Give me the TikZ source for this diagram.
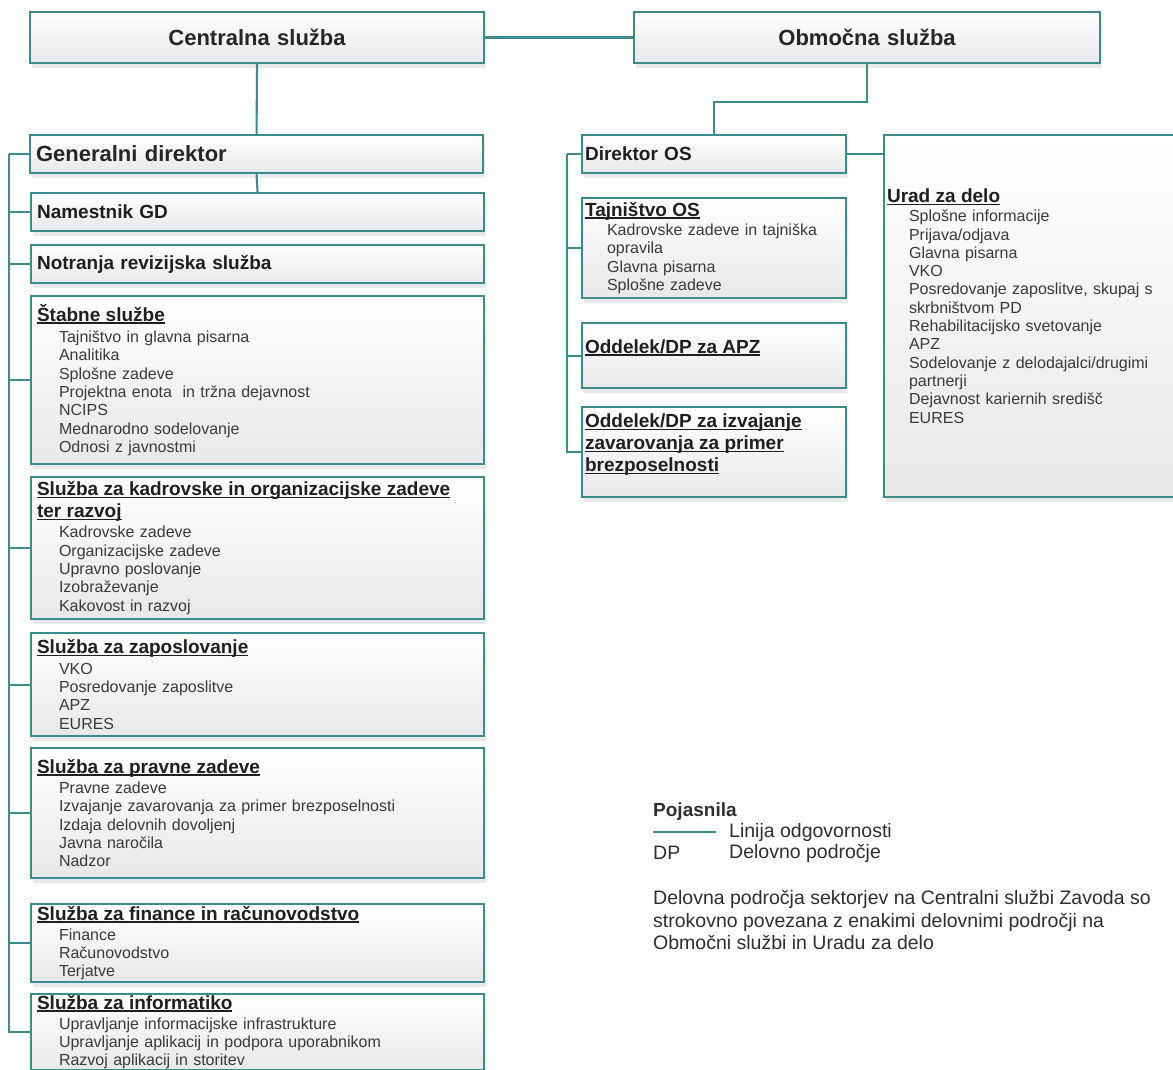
\documentclass[tikz,border=0pt]{standalone}
\usepackage{fontspec}
\setmainfont{Liberation Sans}
\usepackage{xcolor}
\usetikzlibrary{shadows,calc}

\definecolor{orgline}{RGB}{60,140,140}
\definecolor{boxfill}{RGB}{232,232,232}
\definecolor{itemgray}{RGB}{58,58,58}

% underline that runs through the descenders
\newcommand{\ulin}[1]{\noindent\setbox0=\hbox{#1}\rlap{\rule[-0.13em]{\wd0}{0.075em}}\box0}
\newcommand{\unithead}[1]{{\fontsize{19}{22}\selectfont\bfseries\color{black!88}\ulin{#1}}}
\newcommand{\itm}{\hspace*{22pt}}

\begin{document}
\begin{tikzpicture}[x=1pt, y=-1pt,
% common options for the boxes:
unit/.style = {draw=orgline, line width=2.1pt, top color=white, bottom color=boxfill,
            drop shadow={shadow xshift=2pt, shadow yshift=-5pt, fill=black!60, opacity=0.14},
            anchor=north west, align=left, inner ysep=0pt,
            font=\fontsize{16}{18.3}\selectfont, text=itemgray},
leftbox/.style = {unit, inner xsep=6pt, text width=441pt},
rightbox/.style = {unit, inner xsep=3pt, text width=258pt},
topbox/.style = {unit, inner xsep=5pt, align=center, minimum height=51,
            font=\fontsize{22}{26}\selectfont\bfseries, text=black!85},
boldline/.style = {font=\fontsize{19}{22}\selectfont\bfseries, text=black!88},
% common options for the connectors and the legend:
conn/.style = {draw=orgline, line width=2.1pt},
legtext/.style = {anchor=west, inner sep=0pt, align=left,
            font=\fontsize{19.5}{22.2}\selectfont, text=black!82}]
\useasboundingbox (0,0) rectangle (1173,1070);

% top level
\node[topbox, text width=444pt] (cs) at (29,11) {Centralna služba};
\node[topbox, text width=456pt] (os) at (633,11) {Območna služba};

% Centralna sluzba
\node[leftbox, minimum height=38, font=\fontsize{22}{26}\selectfont\bfseries, text=black!85] (gd) at (29,134) {Generalni direktor};
\node[leftbox, minimum height=38, boldline] (ngd) at (30,192) {Namestnik GD};
\node[leftbox, minimum height=38, boldline] (nrs) at (30,244) {Notranja revizijska služba};
\node[leftbox, minimum height=168] (stab) at (30,295) {\unithead{Štabne službe}\\[3pt]
  \itm Tajništvo in glavna pisarna\\
  \itm Analitika\\
  \itm Splošne zadeve\\
  \itm Projektna enota~ in tržna dejavnost\\
  \itm NCIPS\\
  \itm Mednarodno sodelovanje\\
  \itm Odnosi z javnostmi};
\node[leftbox, minimum height=142] (kadr) at (30,476) {\unithead{Služba za kadrovske in organizacijske zadeve}\\[3.5pt]
  \unithead{ter razvoj}\\[2pt]
  \itm Kadrovske zadeve\\
  \itm Organizacijske zadeve\\
  \itm Upravno poslovanje\\
  \itm Izobraževanje\\
  \itm Kakovost in razvoj};
\node[leftbox, minimum height=103] (zap) at (30,632) {\unithead{Služba za zaposlovanje}\\[2pt]
  \itm VKO\\
  \itm Posredovanje zaposlitve\\
  \itm APZ\\
  \itm EURES};
\node[leftbox, minimum height=130] (prav) at (30,747) {\unithead{Služba za pravne zadeve}\\[2pt]
  \itm Pravne zadeve\\
  \itm Izvajanje zavarovanja za primer brezposelnosti\\
  \itm Izdaja delovnih dovoljenj\\
  \itm Javna naročila\\
  \itm Nadzor};
\node[leftbox, minimum height=78] (fin) at (30,903) {\unithead{Služba za finance in računovodstvo}\\[2pt]
  \itm Finance\\
  \itm Računovodstvo\\
  \itm Terjatve};
\node[leftbox, minimum height=76] (inf) at (30,993) {\unithead{Služba za informatiko}\\[2pt]
  \itm Upravljanje informacijske infrastrukture\\
  \itm Upravljanje aplikacij in podpora uporabnikom\\
  \itm Razvoj aplikacij in storitev};

% Obmocna sluzba
\node[rightbox, minimum height=38, boldline] (dos) at (581,134) {Direktor OS};
\node[rightbox, minimum height=100] (taj) at (581,197) {\unithead{Tajništvo OS}\\[1pt]
  \itm Kadrovske zadeve in tajniška\\
  \itm opravila\\
  \itm Glavna pisarna\\
  \itm Splošne zadeve};
\node[rightbox, minimum height=65] (apz) at (581,322) {\unithead{Oddelek/DP za APZ}\\ \mbox{}};
\node[rightbox, minimum height=90] (izv) at (581,406) {\unithead{Oddelek/DP za izvajanje}\\[3.5pt]
  \unithead{zavarovanja za primer}\\[3.5pt]
  \unithead{brezposelnosti}\\ \mbox{}};
\node[unit, inner xsep=3pt, text width=304pt, minimum height=362] (urad) at (883,134) {\unithead{Urad za delo}\\[1pt]
  \itm Splošne informacije\\
  \itm Prijava/odjava\\
  \itm Glavna pisarna\\
  \itm VKO\\
  \itm Posredovanje zaposlitve, skupaj s\\
  \itm skrbništvom PD\\
  \itm Rehabilitacijsko svetovanje\\
  \itm APZ\\
  \itm Sodelovanje z delodajalci/drugimi\\
  \itm partnerji\\
  \itm Dejavnost kariernih središč\\
  \itm EURES\\[2pt]
  \mbox{}};

% lines of responsibility
\draw[conn] (cs.east) -- (os.west);
\draw[conn] (cs.south) -- (gd.north);
\draw[conn] (gd.south) -- (ngd.north);
\coordinate (cspine) at ($(gd.west)+(-20,0)$);
\draw[conn] (gd.west) -- (cspine);
\foreach \n in {ngd,nrs,stab,kadr,zap,prav,fin,inf}
  \draw[conn] (cspine) |- (\n.west);

\draw[conn] (os.south) -- ++(0,38) -| (dos.north);
\draw[conn] (dos.east) -- (dos.east -| urad.west);
\coordinate (ospine) at ($(dos.west)+(-14,0)$);
\draw[conn] (dos.west) -- (ospine);
\foreach \n in {taj,apz,izv}
  \draw[conn] (ospine) |- (\n.west);

% legend
\node[legtext, font=\fontsize{19}{22}\selectfont\bfseries] (legtitle) at (653,812) {Pojasnila};
\coordinate (lstart) at (653,832);
\coordinate (lend) at (716,832);
\draw[conn, line width=1.5pt] (lstart) -- (lend);
\node[legtext] (legline) at (729,832) {Linija odgovornosti};
\node[legtext] (legdp) at (653,853) {DP};
\node[legtext] (legdptext) at (729,853) {Delovno področje};
\node[legtext] (legnote) at (653,920) {Delovna področja sektorjev na Centralni službi Zavoda so\\
  strokovno povezana z enakimi delovnimi področji na\\
  Območni službi in Uradu za delo};
\end{tikzpicture}
\end{document}
